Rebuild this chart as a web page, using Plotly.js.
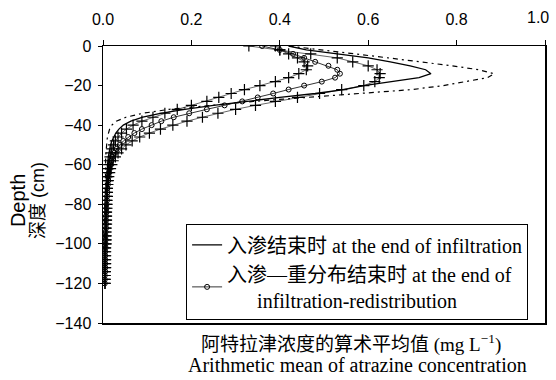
<!DOCTYPE html>
<html>
<head>
<meta charset="utf-8">
<script src="https://cdn.plot.ly/plotly-3.0.1.min.js"></script>
<style>html,body{margin:0;padding:0;background:#fff;}#chart{width:556px;height:380px;}</style>
</head>
<body>
<div id="chart"></div>
<script>
// Soil depth of each sampling layer (cm, negative downward)
const depth = [0,-2,-4,-6,-8,-10,-12,-14,-16,-18,-20,-22,-24,-26,-28,-30,-32,-34,-36,-38,-40,
  -42,-44,-46,-48,-50,-52,-54,-56,-58,-60,-62,-64,-66,-68,-70,-72,-74,-76,-78,-80,
  -82,-84,-86,-88,-90,-92,-94,-96,-98,-100,-102,-104,-106,-108,-110,-112,-114,-116,-118,-120];

// Mean atrazine concentration (mg L-1), end of infiltration
const endInfiltration = [0.42,0.46,0.53,0.60,0.65,0.695,0.73,0.742,0.715,0.65,0.59,0.545,0.48,0.40,0.32,0.25,0.185,0.13,0.09,0.063,0.046,
  0.036,0.029,0.024,0.020,0.017,0.015,0.013,0.012,0.011,0.010,0.010,0.009,0.009,0.008,0.008,0.008,0.007,0.007,0.007,0.006,
  0.006,0.006,0.006,0.006,0.005,0.005,0.005,0.005,0.005,0.005,0.004,0.004,0.004,0.004,0.004,0.004,0.004,0.003,0.003,0.003];

// Second infiltration profile (dash-dot)
const endInfiltrationB = [0.42,0.49,0.57,0.645,0.72,0.79,0.85,0.885,0.87,0.815,0.77,0.70,0.59,0.46,0.34,0.235,0.15,0.09,0.052,0.030,0.020,
  0.015,0.012,0.010,0.009,0.008,0.007,0.007,0.006,0.006,0.006,0.005,0.005,0.005,0.005,0.005,0.005,0.005,0.005,0.005,0.005,
  0.004,0.004,0.004,0.004,0.004,0.004,0.004,0.004,0.004,0.004,0.003,0.003,0.003,0.003,0.003,0.003,0.003,0.003,0.003,0.003];

// End of infiltration-redistribution (circles)
const endRedistribution = [0.36,0.40,0.43,0.455,0.48,0.51,0.53,0.536,0.525,0.495,0.455,0.42,0.385,0.35,0.315,0.275,0.235,0.195,0.16,0.132,0.11,
  0.088,0.071,0.057,0.046,0.038,0.031,0.026,0.022,0.019,0.017,0.015,0.014,0.013,0.012,0.011,0.010,0.010,0.009,0.009,0.008,
  0.008,0.008,0.007,0.007,0.007,0.007,0.006,0.006,0.006,0.006,0.006,0.005,0.005,0.005,0.005,0.005,0.005,0.004,0.004,0.004];

// Redistribution profiles drawn with plus markers
const redistributionA = [0.39,0.40,0.42,0.44,0.455,0.463,0.46,0.443,0.42,0.39,0.355,0.32,0.29,0.262,0.235,0.20,0.168,0.14,0.113,0.088,0.068,
  0.053,0.042,0.034,0.028,0.024,0.020,0.018,0.016,0.014,0.013,0.012,0.011,0.010,0.010,0.009,0.009,0.009,0.008,0.008,0.008,
  0.007,0.007,0.007,0.007,0.006,0.006,0.006,0.006,0.006,0.006,0.005,0.005,0.005,0.005,0.005,0.005,0.005,0.004,0.004,0.004];

const redistributionB = [0.33,0.40,0.47,0.53,0.565,0.60,0.62,0.627,0.625,0.615,0.59,0.54,0.49,0.44,0.39,0.345,0.30,0.26,0.225,0.19,0.158,
  0.13,0.105,0.083,0.066,0.052,0.042,0.034,0.028,0.023,0.020,0.017,0.015,0.013,0.012,0.011,0.010,0.010,0.010,0.009,0.009,
  0.009,0.008,0.008,0.008,0.008,0.007,0.007,0.007,0.007,0.007,0.006,0.006,0.006,0.006,0.006,0.006,0.005,0.005,0.005,0.005];

const xTicks = [0, 0.2, 0.4, 0.6, 0.8, 1.0];
const xTickText = ['0.0', '0.2', '0.4', '0.6', '0.8', ''];
const yTicks = [0, -20, -40, -60, -80, -100, -120, -140];

const legendFont = {family: 'Liberation Serif, Noto Sans CJK SC, serif', size: 20, color: '#000'};

const traces = [
  {x: redistributionB, y: depth, mode: 'lines+markers', showlegend: false,
   line: {color: '#000', width: 0.6},
   marker: {symbol: 'cross-thin-open', size: 8, line: {color: '#000', width: 1.2}}},
  {x: redistributionA, y: depth, mode: 'lines+markers', showlegend: false,
   line: {color: '#000', width: 0.6},
   marker: {symbol: 'cross-thin-open', size: 8, line: {color: '#000', width: 1.2}}},
  {x: endInfiltrationB, y: depth, mode: 'lines', showlegend: false,
   line: {color: '#000', width: 1.2, dash: '5px,4px,2px,4px'}},
  {x: endInfiltration, y: depth, mode: 'lines', name: '入渗结束时 at the end of infiltration',
   legendrank: 1, line: {color: '#000', width: 1.3}},
  {x: endRedistribution, y: depth, mode: 'lines+markers',
   name: '入渗—重分布结束时 at the end of<br>&nbsp;&nbsp;&nbsp;&nbsp;&nbsp;&nbsp;infiltration-redistribution',
   legendrank: 2, line: {color: '#000', width: 0.8},
   marker: {symbol: 'circle-open', size: 5, line: {color: '#000', width: 1}}}
];

const layout = {
  width: 556, height: 380,
  margin: {l: 103, r: 11, t: 46, b: 57},
  paper_bgcolor: '#fff', plot_bgcolor: '#fff',
  font: {family: 'Liberation Sans, Arial, sans-serif', size: 16, color: '#000'},
  xaxis: {
    side: 'top', range: [0, 1.0], tickvals: xTicks, ticktext: xTickText,
    ticks: 'outside', ticklen: 5, tickwidth: 1, tickcolor: '#000',
    showline: true, linecolor: '#000', linewidth: 1.5, mirror: true,
    showgrid: false, zeroline: false, ticklabelstandoff: 8,
    tickfont: {size: 16}
  },
  yaxis: {
    range: [-140, 0], tickvals: yTicks,
    ticks: 'outside', ticklen: 4, tickwidth: 1, tickcolor: '#000',
    showline: true, linecolor: '#000', linewidth: 1.5, mirror: true,
    showgrid: false, zeroline: false, ticklabelstandoff: 3,
    tickfont: {size: 16}
  },
  showlegend: true,
  legend: {
    x: 0.188, y: 0.356, xanchor: 'left', yanchor: 'top',
    bgcolor: '#fff', bordercolor: '#000', borderwidth: 1,
    font: legendFont, itemwidth: 30, tracegroupgap: 0
  },
  annotations: [
    {xref: 'paper', yref: 'paper', x: 1, y: 1, xanchor: 'center', yanchor: 'middle',
     text: '1.0', showarrow: false, font: {size: 16}, xshift: -7, yshift: 29},
    {xref: 'paper', yref: 'paper', x: -0.2, y: 0.5, xanchor: 'center', yanchor: 'middle',
     text: 'Depth', textangle: -90, showarrow: false,
     font: {family: 'Liberation Sans, sans-serif', size: 20}, xshift: 3, yshift: -16},
    {xref: 'paper', yref: 'paper', x: -0.2, y: 0.5, xanchor: 'center', yanchor: 'middle',
     text: '深度 (cm)', textangle: -90, showarrow: false,
     font: {family: 'Liberation Sans, Noto Sans CJK SC, sans-serif', size: 18}, xshift: 23, yshift: -16},
    {xref: 'paper', yref: 'paper', x: 0.561, y: 0, xanchor: 'center', yanchor: 'top',
     text: '阿特拉津浓度的算术平均值 (mg L<sup>−1</sup>)', showarrow: false,
     font: {family: 'Liberation Serif, Noto Sans CJK SC, serif', size: 19}, yshift: -6},
    {xref: 'paper', yref: 'paper', x: 0.575, y: 0, xanchor: 'center', yanchor: 'top',
     text: 'Arithmetic mean of atrazine concentration', showarrow: false,
     font: {family: 'Liberation Serif, serif', size: 20}, yshift: -29}
  ]
};

Plotly.newPlot('chart', traces, layout, {staticPlot: true, displayModeBar: false});
</script>
</body>
</html>
